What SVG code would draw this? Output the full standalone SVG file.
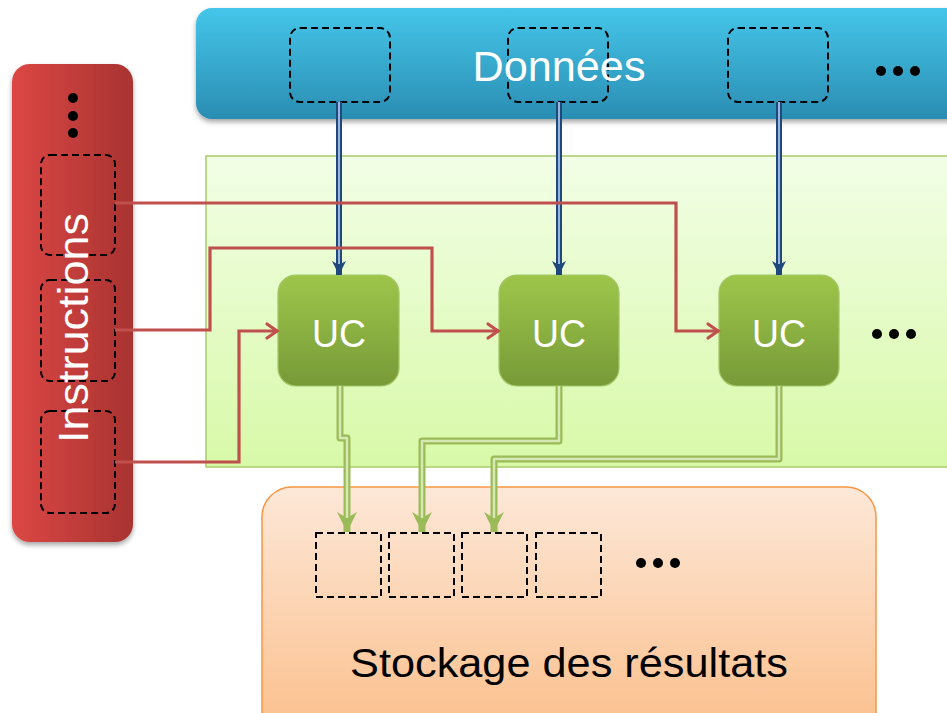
<svg xmlns="http://www.w3.org/2000/svg" width="947" height="713" viewBox="0 0 947 713">
<style>
.dash{fill:none;stroke:#000;stroke-width:2;stroke-dasharray:7,4}
.lbl{font-family:"Liberation Sans",Arial,sans-serif;fill:#fff}
.blk{font-family:"Liberation Sans",Arial,sans-serif;fill:#000}
.bo{fill:none;stroke:#1f497d;stroke-width:6}
.bi{fill:none;stroke:#9bb6dc;stroke-width:2}
.red{fill:none;stroke:#c0504d;stroke-width:3.2;stroke-linejoin:miter}
.go{fill:none;stroke:#9bbb59;stroke-width:7;stroke-linejoin:round}
.gi{fill:none;stroke:#d6e8b4;stroke-width:2.5;stroke-linejoin:round}
</style>
<defs>
<linearGradient id="gBlue" x1="0" y1="0" x2="0" y2="1"><stop offset="0" stop-color="#44c6ea"/><stop offset="1" stop-color="#2b8db2"/></linearGradient>
<linearGradient id="gRed" x1="0" y1="0" x2="1" y2="0"><stop offset="0" stop-color="#dc4744"/><stop offset="1" stop-color="#a83331"/></linearGradient>
<linearGradient id="gLG" x1="0" y1="0" x2="0" y2="1"><stop offset="0" stop-color="#f2fee6"/><stop offset="1" stop-color="#d8f9a8"/></linearGradient>
<linearGradient id="gUC" x1="0" y1="0" x2="0" y2="1"><stop offset="0" stop-color="#9ec64a"/><stop offset="1" stop-color="#779a38"/></linearGradient>
<linearGradient id="gOr" x1="0" y1="0" x2="0" y2="1"><stop offset="0" stop-color="#fde8d8"/><stop offset="1" stop-color="#fbbd88"/></linearGradient>
<filter id="sh" x="-10%" y="-10%" width="120%" height="130%"><feDropShadow dx="0" dy="3" stdDeviation="2.5" flood-color="#000" flood-opacity="0.35"/></filter>
<marker id="mBlue" markerUnits="userSpaceOnUse" markerWidth="20" markerHeight="20" orient="auto" overflow="visible" refX="0" refY="0"><path d="M0,0 L-14,-7 L-10,0 L-14,7 Z" fill="#1f497d"/></marker>
<marker id="mRed" markerUnits="userSpaceOnUse" markerWidth="20" markerHeight="20" orient="auto" overflow="visible" refX="0" refY="0"><path d="M-11,-7 L-1,0 L-11,7" fill="none" stroke="#c0504d" stroke-width="3.2" stroke-linecap="round"/></marker>
<marker id="mGreen" markerUnits="userSpaceOnUse" markerWidth="30" markerHeight="30" orient="auto" overflow="visible" refX="0" refY="0"><path d="M0,0 L-20,-10 L-14,0 L-20,10 Z" fill="#9bbb59"/></marker>
</defs>

<g id="zone-calcul">
<rect x="206" y="156" width="760" height="311" fill="url(#gLG)" stroke="#a9cc6b" stroke-width="1.5"/>
</g>

<g id="donnees">
<rect x="196" y="8" width="780" height="111" rx="16" fill="url(#gBlue)" filter="url(#sh)"/>
<rect x="290" y="28" width="100" height="74" rx="10" class="dash"/>
<rect x="508" y="28" width="100" height="74" rx="10" class="dash"/>
<rect x="728" y="28" width="100" height="74" rx="10" class="dash"/>
<text x="559" y="81" class="lbl" font-size="43" text-anchor="middle" textLength="173" lengthAdjust="spacingAndGlyphs">Données</text>
<circle cx="881" cy="71" r="5" fill="#000"/><circle cx="898" cy="71" r="5" fill="#000"/><circle cx="915" cy="71" r="5" fill="#000"/>
</g>

<g id="instructions">
<rect x="12" y="64" width="121" height="478" rx="18" fill="url(#gRed)" filter="url(#sh)"/>
<rect x="41" y="155" width="74" height="100" rx="9" class="dash"/>
<rect x="41" y="280" width="74" height="101" rx="9" class="dash"/>
<rect x="41" y="411" width="74" height="102" rx="9" class="dash"/>
<circle cx="73" cy="98" r="5" fill="#000"/><circle cx="73" cy="116" r="5" fill="#000"/><circle cx="73" cy="133" r="5" fill="#000"/>
<text transform="translate(88,443) rotate(-90)" x="0" y="0" class="lbl" font-size="42" textLength="230" lengthAdjust="spacingAndGlyphs">Instructions</text>
</g>

<g id="stockage">
<rect x="262" y="487" width="614" height="260" rx="30" fill="url(#gOr)" stroke="#f79646" stroke-width="1.5"/>
<rect x="316" y="533" width="65" height="64" class="dash"/>
<rect x="389" y="533" width="65" height="64" class="dash"/>
<rect x="462" y="533" width="65" height="64" class="dash"/>
<rect x="536" y="533" width="65" height="64" class="dash"/>
<circle cx="641" cy="563" r="5" fill="#000"/><circle cx="658" cy="563" r="5" fill="#000"/><circle cx="675" cy="563" r="5" fill="#000"/>
<text x="569" y="677" class="blk" font-size="40" text-anchor="middle" textLength="438" lengthAdjust="spacingAndGlyphs">Stockage des résultats</text>
</g>

<g id="uc1">
<rect x="278" y="275" width="121" height="111" rx="18" fill="url(#gUC)" stroke="#a3c566" stroke-width="1.2"/>
<text x="339" y="347" class="lbl" font-size="39" text-anchor="middle" textLength="54" lengthAdjust="spacingAndGlyphs">UC</text>
</g>
<g id="uc2">
<rect x="499" y="275" width="120" height="111" rx="18" fill="url(#gUC)" stroke="#a3c566" stroke-width="1.2"/>
<text x="559" y="347" class="lbl" font-size="39" text-anchor="middle" textLength="54" lengthAdjust="spacingAndGlyphs">UC</text>
</g>
<g id="uc3">
<rect x="719" y="275" width="120" height="111" rx="18" fill="url(#gUC)" stroke="#a3c566" stroke-width="1.2"/>
<text x="779" y="347" class="lbl" font-size="39" text-anchor="middle" textLength="54" lengthAdjust="spacingAndGlyphs">UC</text>
</g>
<g id="uc-suite">
<circle cx="877" cy="334" r="5" fill="#000"/><circle cx="894" cy="334" r="5" fill="#000"/><circle cx="911" cy="334" r="5" fill="#000"/>
</g>

<g id="connectors">
<path class="bo" d="M339,102 V275" marker-end="url(#mBlue)"/>
<path class="bi" d="M339,102 V264"/>
<path class="bo" d="M559,102 V275" marker-end="url(#mBlue)"/>
<path class="bi" d="M559,102 V264"/>
<path class="bo" d="M779,102 V275" marker-end="url(#mBlue)"/>
<path class="bi" d="M779,102 V264"/>

<path class="red" d="M115,203 H676 V331 H719" marker-end="url(#mRed)"/>
<path class="red" d="M115,330 H210 V248 H432 V331 H499" marker-end="url(#mRed)"/>
<path class="red" d="M115,462 H239 V331 H278" marker-end="url(#mRed)"/>

<path class="go" d="M340,386 V438 H347 V532" marker-end="url(#mGreen)"/>
<path class="gi" d="M340,386 V438 H347 V518"/>
<path class="go" d="M559,386 V441 H422 V532" marker-end="url(#mGreen)"/>
<path class="gi" d="M559,386 V441 H422 V518"/>
<path class="go" d="M779,386 V459 H494 V532" marker-end="url(#mGreen)"/>
<path class="gi" d="M779,386 V459 H494 V518"/>
</g>
</svg>
